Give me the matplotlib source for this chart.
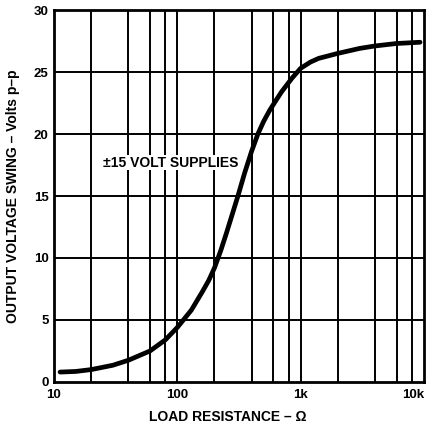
import matplotlib
matplotlib.use("Agg")
import matplotlib.pyplot as plt
from matplotlib.ticker import FixedLocator, NullLocator

plt.rcParams['font.family'] = ['Liberation Sans', 'DejaVu Sans']

# Data
load_resistance = [11.2, 15, 20, 30, 40, 60, 80, 100, 130, 160, 180, 200, 225, 250, 310, 350, 400, 450, 500, 560, 630, 700, 850, 1000, 1200, 1400, 2000, 3000, 4000, 6000, 9300]
output_swing = [0.8, 0.85, 1.0, 1.35, 1.75, 2.5, 3.4, 4.4, 5.8, 7.3, 8.2, 9.2, 10.6, 12.0, 15.0, 16.8, 18.6, 20.0, 21.0, 21.9, 22.7, 23.4, 24.5, 25.3, 25.8, 26.1, 26.5, 26.9, 27.1, 27.3, 27.4]

x_ticks = [10, 100, 1000, 10000]
x_tick_labels = ["10", "100", "1k", "10k"]
x_grid = [20, 40, 60, 80, 100, 200, 400, 600, 800, 1000, 2000, 4000, 6000, 8000]
y_ticks = [0, 5, 10, 15, 20, 25, 30]
y_grid = [5, 10, 15, 20, 25]
annotation = "±15 VOLT SUPPLIES"

fig = plt.figure(figsize=(4.4, 4.26), dpi=100)
ax = fig.add_axes([0.1227, 0.1033, 0.8409, 0.8732])
ax.set_xscale('log')
ax.set_xlim(10, 10000)
ax.set_ylim(0, 30)

for xv in x_grid:
    ax.axvline(xv, color='black', lw=1.4, zorder=1)
for yv in y_grid:
    ax.axhline(yv, color='black', lw=1.4, zorder=1)

ax.plot(load_resistance, output_swing, color='black', lw=3.4, zorder=3,
        solid_capstyle='round', solid_joinstyle='round')

ax.xaxis.set_major_locator(FixedLocator(x_ticks))
ax.xaxis.set_minor_locator(NullLocator())
ax.set_xticklabels(x_tick_labels, fontweight='bold', fontsize=9.5)
labels = ax.get_xticklabels()
labels[-1].set_ha('right')
ax.set_yticks(y_ticks)
ax.set_yticklabels([str(v) for v in y_ticks], fontweight='bold', fontsize=9.5)
ax.tick_params(axis='y', length=0, pad=4)
ax.tick_params(axis='x', length=0, pad=5)

for s in ax.spines.values():
    s.set_linewidth(2)

ax.set_xlabel("LOAD RESISTANCE – Ω", fontweight='bold', fontsize=10, labelpad=8)
ax.xaxis.set_label_coords(0.47, -0.075)
ax.set_ylabel("OUTPUT VOLTAGE SWING – Volts p–p", fontweight='bold', fontsize=10, labelpad=10)

ax.text(25, 17.7, annotation, fontweight='bold', fontsize=10, va='center', ha='left', zorder=4,
        bbox=dict(facecolor='white', edgecolor='none', pad=0.5))

fig.savefig("out.png", dpi=100)
